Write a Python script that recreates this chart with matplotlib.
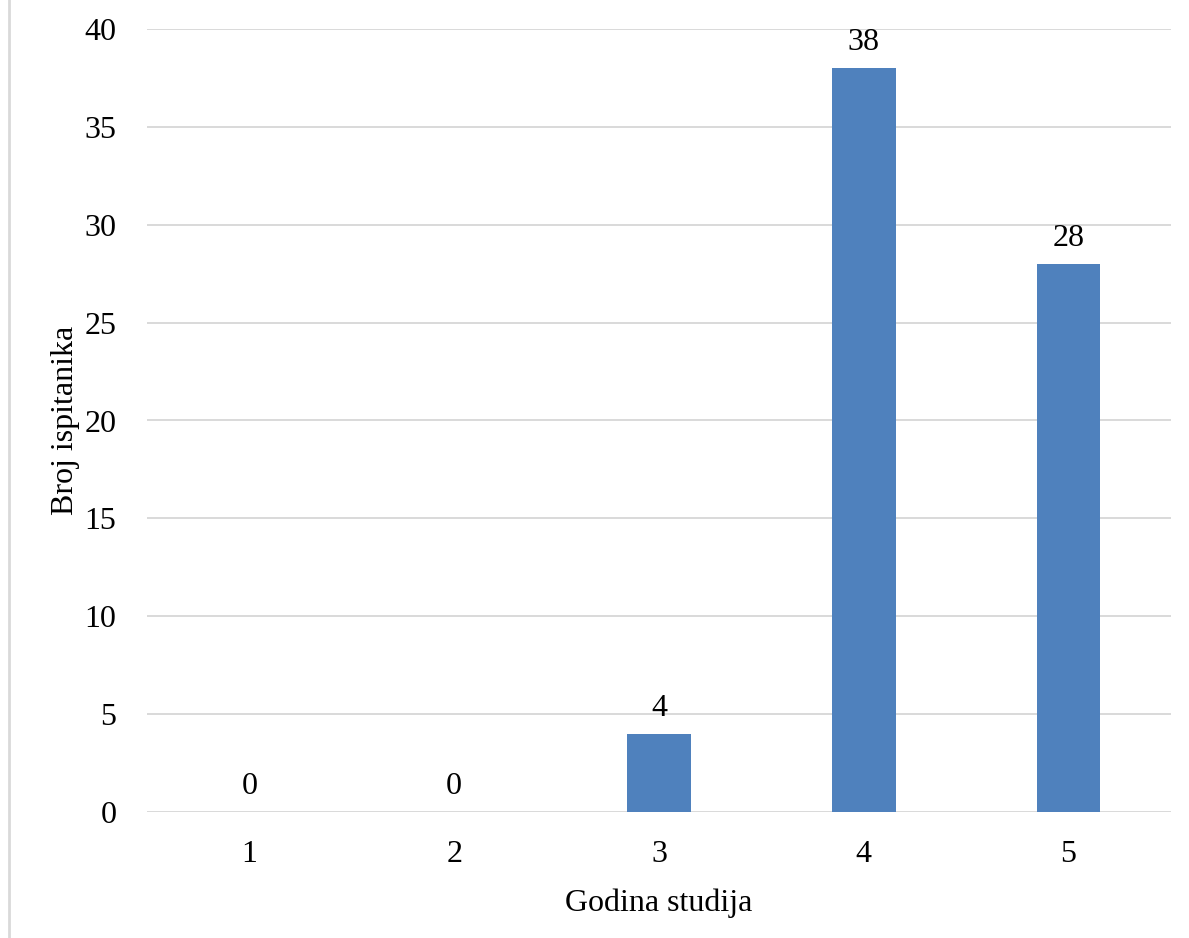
import matplotlib.pyplot as plt
from matplotlib.lines import Line2D

# podaci
godine = ["1", "2", "3", "4", "5"]
broj = [0, 0, 4, 38, 28]

plt.rcParams['font.family'] = ['Liberation Serif', 'DejaVu Serif']

fig = plt.figure(figsize=(11.89, 9.38), dpi=100)
ax = fig.add_axes([147 / 1189, 126 / 938, 1024 / 1189, 783 / 938])

x = range(len(godine))
bars = ax.bar(x, broj, width=0.31, color="#4f81bd", zorder=3)

for xi, v in zip(x, broj):
    ax.annotate(str(v), (xi, v), xytext=(0, 8), textcoords="offset points",
                ha="center", va="bottom", fontsize=23)

ax.set_xlim(-0.5, 4.5)
ax.set_ylim(0, 40)
ax.set_yticks(range(0, 41, 5))
ax.set_xticks(list(x))
ax.set_xticklabels(godine)
ax.tick_params(axis="both", length=0, labelsize=23)
ax.tick_params(axis="y", pad=22)
ax.tick_params(axis="x", pad=20)

ax.grid(axis="y", color="#d9d9d9", linewidth=1.4, zorder=0)
for s in ax.spines.values():
    s.set_visible(False)

ax.set_xlabel("Godina studija", fontsize=23, labelpad=14)
ax.set_ylabel("Broj ispitanika", fontsize=23, labelpad=3)

# rub grafikona lijevo
fig.add_artist(Line2D([8.5 / 1189, 8.5 / 1189], [0, 1], color="#d9d9d9", linewidth=2))

fig.savefig("out.png", dpi=100)
